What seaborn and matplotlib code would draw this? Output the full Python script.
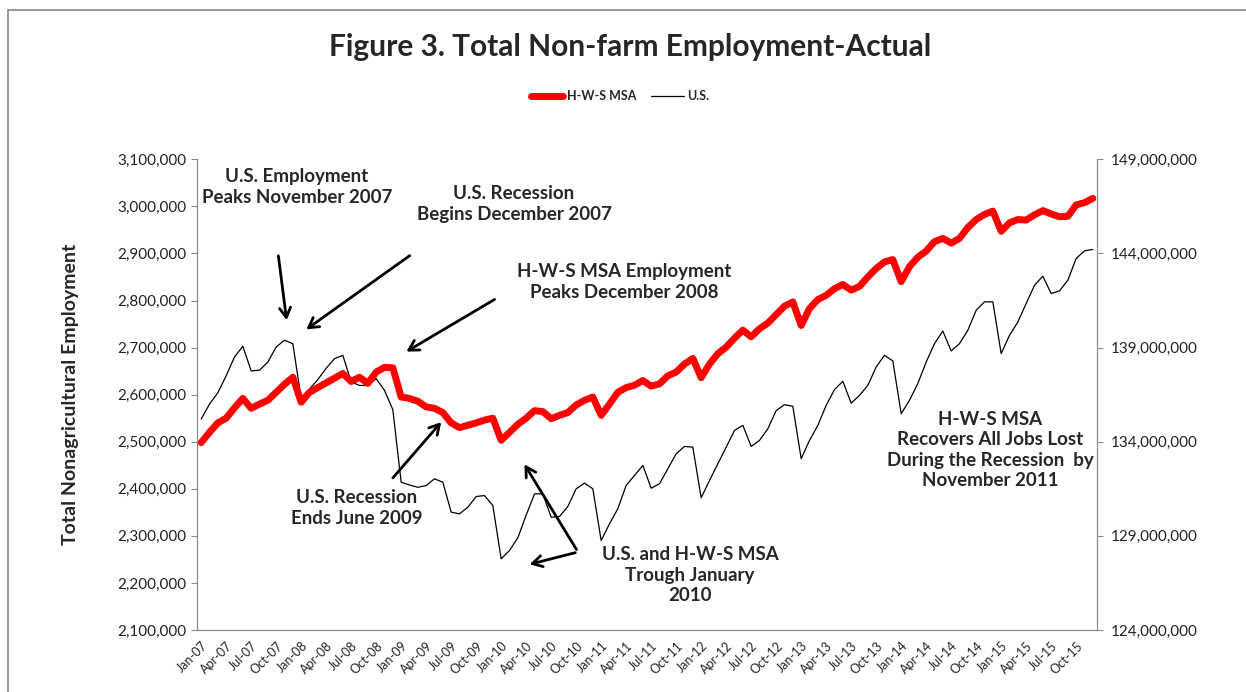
import matplotlib
matplotlib.use("Agg")
import matplotlib.pyplot as plt
import matplotlib.ticker as mticker
import matplotlib.patches as mpatches
import seaborn as sns
import pandas as pd

# monthly data Jan-2007 .. Dec-2015
months = pd.date_range("2007-01-01", "2015-12-01", freq="MS").strftime("%b-%y").tolist()

# H-W-S MSA, thousands of jobs (left axis)
hws_k = [2498, 2520, 2540, 2550, 2572, 2592, 2571, 2580, 2588, 2605, 2622, 2637,
         2584, 2605, 2615, 2625, 2635, 2645, 2628, 2637, 2624, 2648, 2658, 2657,
         2595, 2592, 2586, 2574, 2571, 2562, 2540, 2530, 2535, 2540, 2546, 2550,
         2503, 2520, 2537, 2550, 2566, 2564, 2549, 2556, 2562, 2578, 2588, 2595,
         2556, 2580, 2605, 2615, 2620, 2630, 2618, 2623, 2640, 2648, 2665, 2677,
         2636, 2665, 2687, 2701, 2720, 2737, 2723, 2740, 2752, 2770, 2788, 2797,
         2747, 2783, 2802, 2811, 2825, 2834, 2822, 2830, 2850, 2868, 2882, 2887,
         2840, 2872, 2892, 2905, 2925, 2932, 2922, 2932, 2955, 2972, 2983, 2990,
         2947, 2965, 2972, 2971, 2982, 2991, 2984, 2978, 2979, 3003, 3008, 3017]

# U.S., millions of jobs (right axis)
us_m = [135.20, 136.00, 136.60, 137.50, 138.50, 139.07, 137.76, 137.80, 138.23, 139.03, 139.39, 139.21,
        136.29, 136.80, 137.30, 137.90, 138.41, 138.59, 137.17, 136.99, 136.99, 137.35, 136.73, 135.70,
        131.85, 131.70, 131.58, 131.67, 132.03, 131.85, 130.26, 130.17, 130.52, 131.09, 131.14, 130.61,
        127.78, 128.22, 128.90, 130.10, 131.23, 131.23, 129.99, 130.03, 130.56, 131.50, 131.80, 131.50,
        128.75, 129.64, 130.44, 131.68, 132.21, 132.74, 131.53, 131.77, 132.56, 133.36, 133.75, 133.71,
        131.02, 131.94, 132.83, 133.71, 134.60, 134.87, 133.75, 134.07, 134.69, 135.65, 135.97, 135.88,
        133.10, 134.07, 134.87, 135.93, 136.77, 137.21, 136.05, 136.46, 136.99, 137.97, 138.59, 138.29,
        135.49, 136.20, 137.09, 138.23, 139.21, 139.88, 138.82, 139.21, 139.92, 140.98, 141.43, 141.43,
        138.68, 139.65, 140.36, 141.34, 142.31, 142.79, 141.87, 142.01, 142.58, 143.73, 144.14, 144.21]

left_ticks = list(range(2100000, 3100001, 100000))
right_ticks = list(range(124000000, 149000001, 5000000))

df = pd.DataFrame({
    "pos": range(len(months)),
    "month": months,
    "hws": [v * 1000 for v in hws_k],
    "us": [v * 1e6 for v in us_m],
})

sns.set_style("white")
plt.rcParams["font.family"] = ["Lato", "DejaVu Sans"]

W, H = 1246, 692
fig = plt.figure(figsize=(W / 100, H / 100), dpi=100)


def fp(x, y):
    # image pixel (top-left origin) -> figure fraction
    return (x / W, 1 - y / H)


ax = fig.add_axes([197 / W, 1 - 630 / H, 900 / W, (630 - 159.3) / H])
ax2 = ax.twinx()

sns.lineplot(data=df, x="pos", y="us", ax=ax2, color="black", linewidth=0.9,
             label="U.S.", legend=False)
sns.lineplot(data=df, x="pos", y="hws", ax=ax, color="#ff0000", linewidth=5,
             label="H-W-S MSA", legend=False, solid_capstyle="round", solid_joinstyle="round")
ax.set_zorder(ax2.get_zorder() + 1)
ax.patch.set_visible(False)

ax.set_xlim(-0.5, len(months) - 0.5)
ax.set_ylim(left_ticks[0], left_ticks[-1])
ax2.set_ylim(right_ticks[0], right_ticks[-1])
ax.yaxis.set_major_locator(mticker.FixedLocator(left_ticks))
ax2.yaxis.set_major_locator(mticker.FixedLocator(right_ticks))
ax.yaxis.set_major_formatter(mticker.StrMethodFormatter("{x:,.0f}"))
ax2.yaxis.set_major_formatter(mticker.StrMethodFormatter("{x:,.0f}"))

ax.set_xticks(df["pos"][::3])
ax.set_xticklabels(df["month"][::3], rotation=45, ha="right", rotation_mode="anchor",
                   fontsize=9, color="#222222")
ax.set_xlabel("")
ax2.set_ylabel("")
ax.set_ylabel("Total Nonagricultural Employment", fontsize=14, fontweight="bold",
              labelpad=28)

for a in (ax, ax2):
    a.tick_params(axis="y", labelsize=11, colors="#222222", length=4, color="#888888")
    a.spines["top"].set_visible(False)
    for s in ("left", "right", "bottom"):
        a.spines[s].set_color("#888888")
ax.tick_params(axis="x", length=4, color="#888888", pad=3)
ax.tick_params(axis="y", direction="out", left=True)
ax2.tick_params(axis="y", direction="out", right=True, pad=6)

# chart border
fig.patches.append(mpatches.Rectangle(fp(8, 700), (W + 10) / W, 690 / H,
                                      transform=fig.transFigure, fill=False,
                                      edgecolor="#888888", linewidth=1.2))

fig.text(*fp(630, 47), "Figure 3. Total Non-farm Employment-Actual", ha="center",
         va="center", fontsize=21.5, fontweight="bold")

handles = [ax.get_lines()[0], ax2.get_lines()[0]]
fig.legend(handles, ["H-W-S MSA", "U.S."], loc="center", bbox_to_anchor=fp(620, 96),
           ncol=2, frameon=False, prop={"size": 9, "weight": "bold"},
           handlelength=2.6, handletextpad=0.3, columnspacing=1.2)

notes = [
    (297, 187, "U.S. Employment\nPeaks November 2007"),
    (514, 204, "U.S. Recession\nBegins December 2007"),
    (624, 282, "H-W-S MSA Employment\nPeaks December 2008"),
    (357, 508, "U.S. Recession\nEnds June 2009"),
    (690, 575, "U.S. and H-W-S MSA\nTrough January\n2010"),
    (990, 450, "H-W-S MSA\nRecovers All Jobs Lost\nDuring the Recession  by\nNovember 2011"),
]
for x, y, t in notes:
    fig.text(*fp(x, y), t, ha="center", va="center", fontsize=13.5,
             fontweight="bold", linespacing=1.25)

arrows = [
    ((278, 253), (287, 323)),
    ((412, 254), (304, 331)),
    ((497, 298), (404, 353)),
    ((391, 480), (443, 420)),
    ((578, 552), (523, 462)),
    ((578, 552), (527, 565)),
]
for (x0, y0), (x1, y1) in arrows:
    fig.add_artist(mpatches.FancyArrowPatch(fp(x0, y0), fp(x1, y1),
                                            transform=fig.transFigure,
                                            arrowstyle="->,head_length=7,head_width=4",
                                            color="black", linewidth=2))

fig.savefig("out.png", dpi=100)
